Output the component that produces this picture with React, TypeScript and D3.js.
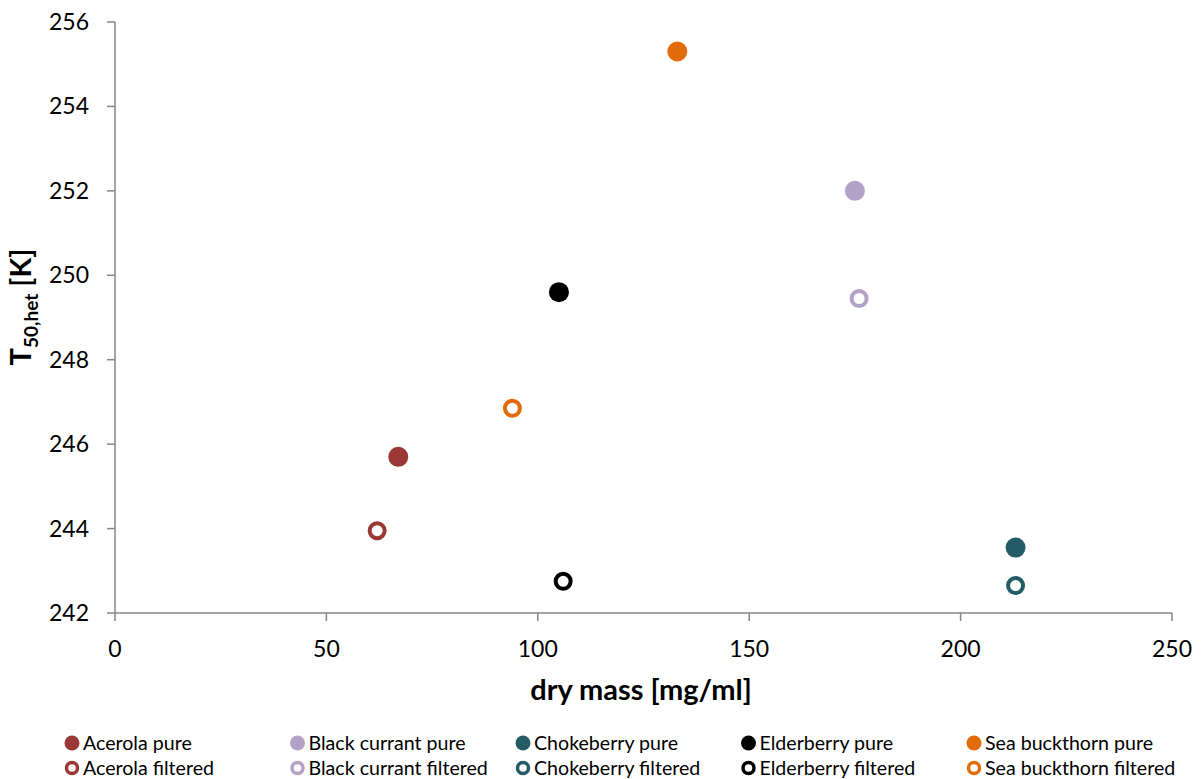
import React from "react";
import * as d3 from "d3";

const fruits = ["Acerola", "Black currant", "Chokeberry", "Elderberry", "Sea buckthorn"];
const colors = ["#993835", "#B3A2C7", "#235B67", "#000000", "#E36C0A"];
const pureMass = [67, 175, 213, 105, 133];
const pureT50 = [245.7, 252.0, 243.55, 249.6, 255.3];
const filteredMass = [62, 176, 213, 106, 94];
const filteredT50 = [243.95, 249.45, 242.65, 242.75, 246.85];
const xTicks = [0, 50, 100, 150, 200, 250];
const yTicks = [242, 244, 246, 248, 250, 252, 254, 256];

const W = 1201;
const H = 779;
const FONT = "Lato, 'Open Sans', sans-serif";
const AXIS = "#868686";

export default function App() {
  const x = d3.scaleLinear().domain([0, 250]).range([115, 1172]);
  const y = d3.scaleLinear().domain([242, 256]).range([613, 22]);

  const legendItems = fruits.flatMap((f, i) => [
    { label: `${f} pure`, color: colors[i], filled: true, col: i, row: 0 },
    { label: `${f} filtered`, color: colors[i], filled: false, col: i, row: 1 },
  ]);

  return (
    <svg width={W} height={H} style={{ position: "absolute", left: 0, top: 0, background: "#fff" }} fontFamily={FONT}>
      {/* axes */}
      <line x1={x(0)} x2={x(250)} y1={y(242)} y2={y(242)} stroke={AXIS} strokeWidth={1.5} />
      <line x1={x(0)} x2={x(0)} y1={y(256)} y2={y(242)} stroke={AXIS} strokeWidth={1.5} />
      {xTicks.map((t) => (
        <g key={`x${t}`}>
          <line x1={x(t)} x2={x(t)} y1={y(242)} y2={y(242) + 8} stroke={AXIS} strokeWidth={1.5} />
          <text x={x(t)} y={y(242) + 44} textAnchor="middle" fontSize={23} fill="#000">{t}</text>
        </g>
      ))}
      {yTicks.map((t) => (
        <g key={`y${t}`}>
          <line x1={x(0) - 8} x2={x(0)} y1={y(t)} y2={y(t)} stroke={AXIS} strokeWidth={1.5} />
          <text x={89} y={y(t) + 8} textAnchor="end" fontSize={23} fill="#000">{t}</text>
        </g>
      ))}

      {/* axis titles */}
      <text x={641} y={700} textAnchor="middle" fontSize={29} fontWeight="bold" fill="#000">
        dry mass [mg/ml]
      </text>
      <text transform={`translate(31, ${307}) rotate(-90)`} textAnchor="middle" fontSize={29} fontWeight="bold" fill="#000">
        T<tspan fontSize={19} dy={7}>50,het</tspan><tspan dy={-7}> [K]</tspan>
      </text>

      {/* pure samples */}
      {fruits.map((f, i) => (
        <circle key={`p${f}`} cx={x(pureMass[i])} cy={y(pureT50[i])} r={10} fill={colors[i]} />
      ))}
      {/* filtered samples */}
      {fruits.map((f, i) => (
        <circle key={`f${f}`} cx={x(filteredMass[i])} cy={y(filteredT50[i])} r={7.5} fill="#fff" stroke={colors[i]} strokeWidth={4} />
      ))}

      {/* legend */}
      {legendItems.map((d) => {
        const lx = 72 + d.col * 225.5;
        const ly = 743 + d.row * 25;
        return (
          <g key={d.label}>
            {d.filled ? (
              <circle cx={lx} cy={ly} r={7.5} fill={d.color} />
            ) : (
              <circle cx={lx} cy={ly} r={5.5} fill="#fff" stroke={d.color} strokeWidth={3.5} />
            )}
            <text x={lx + 11} y={ly + 7} fontSize={19.6} fill="#000">{d.label}</text>
          </g>
        );
      })}
    </svg>
  );
}
